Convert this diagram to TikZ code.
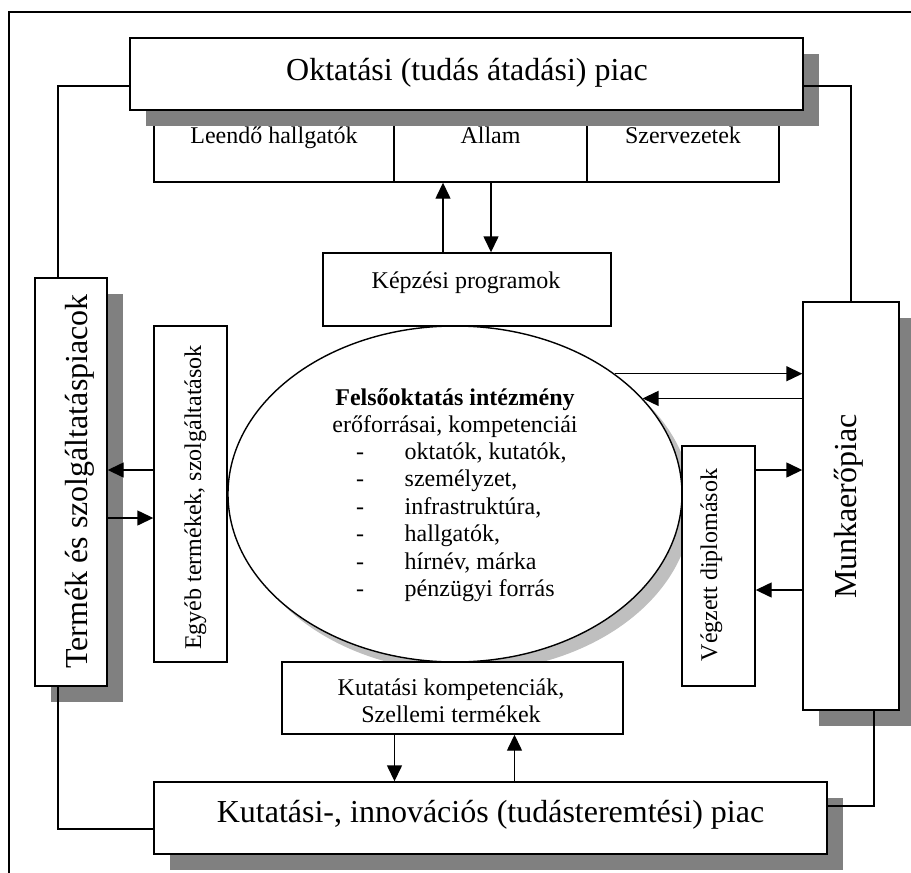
\documentclass[tikz,border=0pt]{standalone}
\usepackage{fontspec}
\setmainfont{Liberation Serif}
\usetikzlibrary{arrows.meta,shapes.geometric,shadows}

\newcommand\bigfont{\fontsize{16}{19}\selectfont}
\newcommand\midfont{\fontsize{12}{13.5}\selectfont}

\begin{document}
\begin{tikzpicture}[x=0.5pt, y=-0.5pt, line width=0.7pt, >={Triangle[length=8pt, width=7.5pt]},
	every node/.style={font=\midfont, inner sep=0pt},
	box/.style={draw, fill=white, rectangle},
	shbox/.style={box, drop shadow={shadow xshift=8pt, shadow yshift=-8pt, fill=black!50, opacity=1}}]
	\useasboundingbox (0,0) rectangle (911,873);
	\clip (0,0) rectangle (911,873);
	% outer frame
	\draw (9,880) -- (9,12) -- (920,12);
	% actors under the education market
	\node[box, minimum width=120pt, minimum height=36pt] (leendo) at (274,146) {};
	\node[box, minimum width=96.5pt, minimum height=36pt] (allam) at (490.5,146) {};
	\node[box, minimum width=96pt, minimum height=36pt] (szerv) at (683,146) {};
	\node[anchor=base] (tleendo) at (274,143) {Leendő hallgatók};
	\node[anchor=base] (tallam) at (490.5,143) {Állam};
	\node[anchor=base] (tszerv) at (683,143) {Szervezetek};
	\node[shbox, minimum width=336.5pt, minimum height=36pt] (oktpiac) at (466.5,74) {};
	\node[anchor=base, font=\bigfont] (toktpiac) at (467,80) {Oktatási (tudás átadási) piac};
	% the institution
	\node[ellipse, draw, fill=white, minimum width=227pt, minimum height=168pt,
		drop shadow={shadow xshift=5pt, shadow yshift=-5pt, fill=black!25, opacity=1}] (hei) at (455,494) {};
	\node[anchor=base] (thei) at (455,405) {\textbf{Felsőoktatás intézmény}};
	\node[anchor=base] (thei2) at (455,432) {erőforrásai, kompetenciái};
	\foreach \t [count=\i] in {{oktatók, kutatók,}, {személyzet,}, {infrastruktúra,}, {hallgatók,}, {hírnév, márka}, {pénzügyi forrás}} {
		\node[anchor=base] (dash\i) at (360,{431.5+27.5*\i}) {-};
		\node[anchor=base west] (item\i) at (404,{431.5+27.5*\i}) {\t};
	}
	% inner boxes
	\node[box, minimum width=144pt, minimum height=36.5pt] (kepzes) at (467,289.5) {};
	\node[anchor=base] (tkepzes) at (466,288) {Képzési programok};
	\node[box, minimum width=36.5pt, minimum height=168pt] (egyeb) at (190.5,494) {};
	\node[anchor=base, rotate=90] (tegyeb) at (201,497.5) {Egyéb termékek, szolgáltatások};
	\node[box, minimum width=36.5pt, minimum height=120pt] (vegzett) at (718.5,566) {};
	\node[anchor=base, rotate=90] (tvegzett) at (717,565) {Végzett diplomások};
	\node[box, minimum width=170.5pt, minimum height=36pt] (kutkomp) at (452.5,698) {};
	\node[anchor=base] (tkutkomp1) at (451,695) {Kutatási kompetenciák,};
	\node[anchor=base] (tkutkomp2) at (451,722) {Szellemi termékek};
	% outer markets
	\node[shbox, minimum width=36pt, minimum height=204pt] (termek) at (71,482) {};
	\node[anchor=base, rotate=90, font=\bigfont] (ttermek) at (87,481.5) {Termék és szolgáltatáspiacok};
	\node[shbox, minimum width=48pt, minimum height=204pt] (munka) at (851,506) {};
	\node[anchor=base, rotate=90, font=\bigfont] (tmunka) at (856,506.5) {Munkaerőpiac};
	\node[shbox, minimum width=336.5pt, minimum height=36pt] (kutpiac) at (490.5,818) {};
	\node[anchor=base, font=\bigfont] (tkutpiac) at (490.5,822) {Kutatási-, innovációs (tudásteremtési) piac};
	% market links
	\draw ([yshift=-6pt]oktpiac.west) -| ([xshift=-6.5pt]termek.north);
	\draw ([yshift=-6pt]oktpiac.east) -| (munka.north);
	\draw ([xshift=-6.5pt]termek.south) |- ([yshift=-5.5pt]kutpiac.west);
	\draw ([xshift=11.5pt]munka.south) |- ([yshift=6pt]kutpiac.east);
	% flows
	\draw[->] ([xshift=-12pt]kepzes.north) -- ([xshift=-12pt]kepzes.north |- allam.south);
	\draw[->] ([xshift=12pt]kepzes.north |- allam.south) -- ([xshift=12pt]kepzes.north);
	\draw[->] ([yshift=12pt]egyeb.west) -- ([yshift=12pt]egyeb.west -| termek.east);
	\draw[->] ([yshift=-12pt]egyeb.west -| termek.east) -- ([yshift=-12pt]egyeb.west);
	\draw[->] (hei.37) -- (hei.37 -| munka.west);
	\draw[->] (hei.27 -| munka.west) -- (hei.27);
	\draw[->] ([yshift=48pt]vegzett.east) -- ([yshift=48pt]vegzett.east -| munka.west);
	\draw[->] ([yshift=-12pt]vegzett.east -| munka.west) -- ([yshift=-12pt]vegzett.east);
	\draw[->] ([xshift=-29pt]kutkomp.south) -- ([xshift=-29pt]kutkomp.south |- kutpiac.north);
	\draw[->] ([xshift=31pt]kutkomp.south |- kutpiac.north) -- ([xshift=31pt]kutkomp.south);
\end{tikzpicture}
\end{document}
